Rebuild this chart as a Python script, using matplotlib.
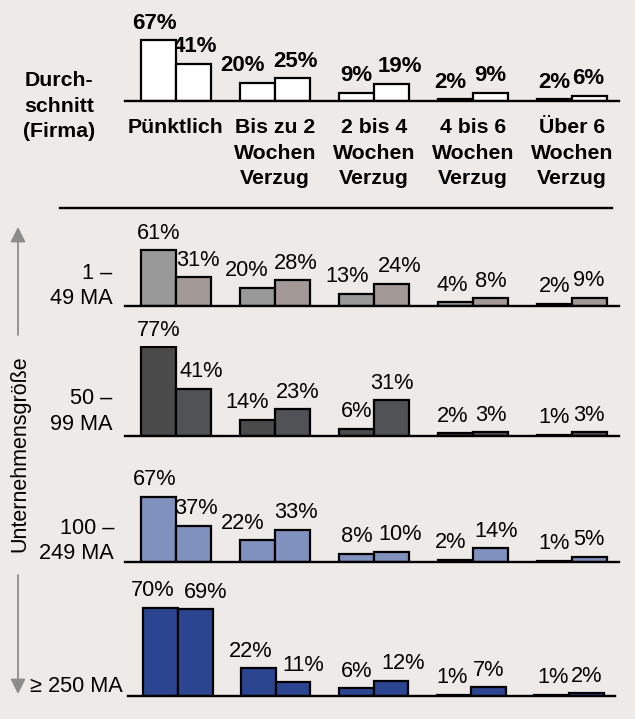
import matplotlib
matplotlib.use("Agg")
import matplotlib.pyplot as plt
from matplotlib.patches import FancyArrowPatch

plt.rcParams['font.family'] = ['Liberation Sans', 'DejaVu Sans']

# ---------------- data ----------------
categories = ["Pünktlich", "Bis zu 2\nWochen\nVerzug", "2 bis 4\nWochen\nVerzug",
              "4 bis 6\nWochen\nVerzug", "Über 6\nWochen\nVerzug"]

avg_first = [67, 20, 9, 2, 2]
avg_second = [41, 25, 19, 9, 6]

ma_1_49_first = [61, 20, 13, 4, 2]
ma_1_49_second = [31, 28, 24, 8, 9]

ma_50_99_first = [77, 14, 6, 2, 1]
ma_50_99_second = [41, 23, 31, 3, 3]

ma_100_249_first = [67, 22, 8, 2, 1]
ma_100_249_second = [37, 33, 10, 14, 5]

ma_250_first = [70, 22, 6, 1, 1]
ma_250_second = [69, 11, 12, 7, 2]

row_labels = ["1 –\n49 MA", "50 –\n99 MA", "100 –\n249 MA", "≥ 250 MA"]
avg_label = "Durch-\nschnitt\n(Firma)"
axis_title = "Unternehmensgröße"

# ---------------- style ----------------
W, H = 635, 719
BG = "#EDEAE8"
fig = plt.figure(figsize=(W / 100, H / 100), dpi=100, facecolor=BG)

BW = 0.354
XL = (-0.515, 4.475)
LS = 1.42


def px_axes(L, R, B, h):
    return fig.add_axes([L / W, (H - B) / H, (R - L) / W, h / H])


def panel(L, R, B, scale, first, second, c1, c2, bold, nud1, nud2):
    h = 90
    ax = px_axes(L, R, B, h)
    ax.set_xlim(*XL)
    ax.set_ylim(0, h / scale)
    ax.patch.set_alpha(0)
    for s in ["top", "right", "left"]:
        ax.spines[s].set_visible(False)
    ax.spines["bottom"].set_linewidth(1.7)
    ax.set_xticks([])
    ax.set_yticks([])
    x = list(range(len(first)))
    b1 = ax.bar([i - BW / 2 for i in x], first, BW, color=c1, edgecolor="black",
                linewidth=1.6, zorder=2)
    b2 = ax.bar([i + BW / 2 for i in x], second, BW, color=c2, edgecolor="black",
                linewidth=1.6, zorder=2)
    for bars, vals, nud in ((b1, first, nud1), (b2, second, nud2)):
        for r, v, dx in zip(bars, vals, nud):
            ax.annotate(f"{v}%", (r.get_x() + r.get_width() / 2, v),
                        xytext=(dx * 0.72, 17 * 0.72), textcoords="offset points",
                        ha="center", va="center", fontsize=16 if bold else 15.7,
                        fontweight="bold" if bold else "normal", zorder=1,
                        annotation_clip=False)
    return ax


# top average panel
ax0 = panel(125, 619, 101, 0.91, avg_first, avg_second, "white", "white", True,
            [-4, -15, 0, -5, 0], [1, 3, 8, 0, -1])
for i, c in enumerate(categories):
    ax0.annotate(c, (i, 0), xycoords=("data", "axes fraction"), xytext=(0, -12.5),
                 textcoords="offset points", ha="center", va="top", fontsize=15.3,
                 fontweight="bold", linespacing=LS)

panel(125, 619, 305.7, 0.91, ma_1_49_first, ma_1_49_second, "#999999", "#A39A98", False,
      [0, -11, -9, -3, 0], [4, 3, 8, 0, -1])
panel(125, 619, 435.7, 1.15, ma_50_99_first, ma_50_99_second, "#4A4A4A", "#505256", False,
      [0, -10, 0, -3, 0], [8, 5, 0, 0, -1])
panel(125, 619, 561.7, 0.97, ma_100_249_first, ma_100_249_second, "#8191BE", "#8191BE", False,
      [-4, -15, 0, -5, 0], [2, 3, 9, 6, -1])
panel(127.7, 615.4, 696, 1.26, ma_250_first, ma_250_second, "#2C4591", "#2C4591", False,
      [-8, -8, 0, -2, 1], [10, 10, 12, 0, 0])

# left texts
fig.text(59 / W, 1 - 106 / H, avg_label, ha="center", va="center", fontsize=15.3,
         fontweight="bold", linespacing=LS)
row_pos = [(112.5, 286), (112.5, 411.5), (114, 541), (123, 687)]
for lab, (xr, yc) in zip(row_labels, row_pos):
    fig.text(xr / W, 1 - yc / H, lab, ha="right", va="center", fontsize=15.7,
             linespacing=1.3)

# separator line
fig.add_artist(plt.Line2D([60 / W, 612 / W], [1 - 208 / H, 1 - 208 / H],
                          color="black", linewidth=1.7))

# arrows and vertical title
grey = "#8C8C8C"
for y0, y1 in ((335, 227), (575, 694)):
    fig.add_artist(FancyArrowPatch((18 / W, 1 - y0 / H), (18 / W, 1 - y1 / H),
                                   transform=fig.transFigure,
                                   arrowstyle="-|>,head_length=6,head_width=3",
                                   mutation_scale=1.5, color=grey, linewidth=1.3,
                                   shrinkA=0, shrinkB=0))
fig.text(20 / W, 1 - 454 / H, axis_title, rotation=90, ha="center", va="center",
         fontsize=15.5)

fig.savefig("out.png", dpi=100, facecolor=BG)
